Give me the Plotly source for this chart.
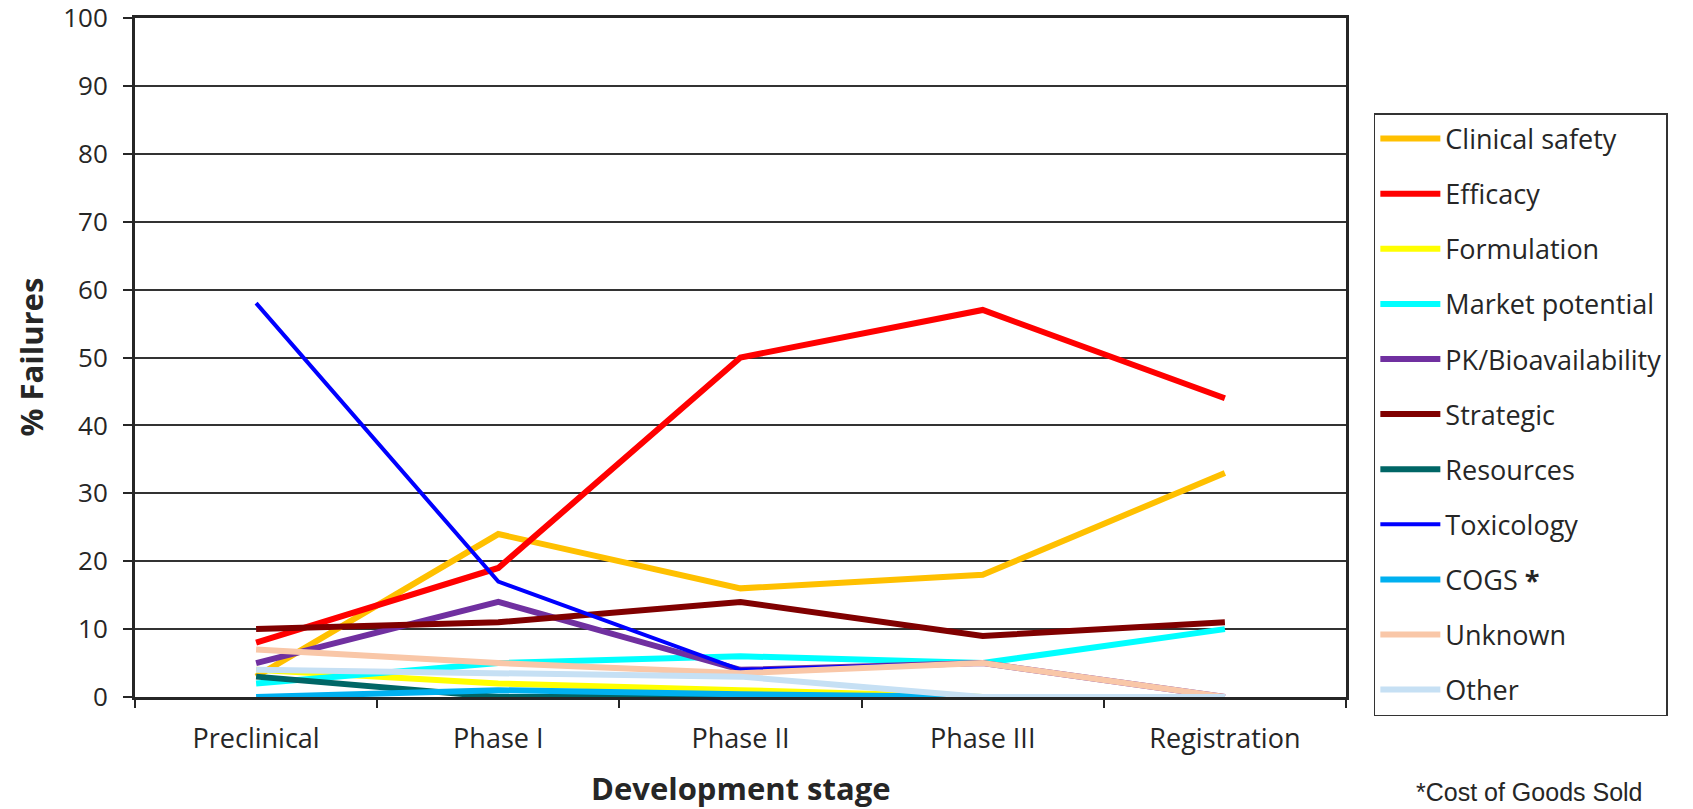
import plotly.graph_objects as go

stages = ["Preclinical", "Phase I", "Phase II", "Phase III", "Registration"]

clinical_safety = [3, 24, 16, 18, 33]
efficacy = [8, 19, 50, 57, 44]
formulation = [4, 2, 1, 0, 0]
market_potential = [2, 5, 6, 5, 10]
pk_bioavailability = [5, 14, 4, 5, 0]
strategic = [10, 11, 14, 9, 11]
resources = [3, 0, 0, 0, 0]
toxicology = [58, 17, 4, 5, 0]
cogs = [0, 1, 0.4, 0, 0]
unknown = [7, 5, 3.5, 5, 0]
other = [4, 3.4, 3, 0, 0]

series = [
    ("Clinical safety", clinical_safety, "#FFC000", 6),
    ("Efficacy", efficacy, "#FF0000", 6),
    ("Formulation", formulation, "#FFFF00", 6),
    ("Market potential", market_potential, "#00FFFF", 6),
    ("PK/Bioavailability", pk_bioavailability, "#7030A0", 6),
    ("Strategic", strategic, "#800000", 6),
    ("Resources", resources, "#006666", 6),
    ("Toxicology", toxicology, "#0000FF", 4),
    ("COGS <b>*</b>", cogs, "#00B0F0", 6),
    ("Unknown", unknown, "#F9C7A8", 6),
    ("Other", other, "#C6E0F4", 6),
]

fig = go.Figure()
for name, vals, color, width in series:
    fig.add_trace(go.Scatter(
        x=stages, y=vals, name=name, mode="lines",
        line=dict(color=color, width=width),
        legendgroup=name,
    ))

axis_color = "#262626"
text_color = "#262626"
fig.update_layout(
    width=1693, height=809,
    margin=dict(l=135, r=347, t=18, b=112, autoexpand=False),
    paper_bgcolor="white", plot_bgcolor="white",
    font=dict(family="Open Sans", color=text_color),
    showlegend=True,
    legend=dict(
        x=1.023, xanchor="left", y=0.86, yanchor="top",
        bordercolor="#333333", borderwidth=1.5,
        font=dict(family="Open Sans", size=27, color=text_color),
        tracegroupgap=17, itemwidth=60,
    ),
    xaxis=dict(
        type="category", range=[-0.5, 4.5], automargin=False,
        showline=True, linecolor=axis_color, linewidth=3, mirror=True,
        ticks="outside", tickson="boundaries", ticklen=8, tickwidth=2, tickcolor=axis_color,
        showgrid=False,
        tickfont=dict(family="Open Sans", size=27, color=text_color),
        ticklabelstandoff=16,
    ),
    yaxis=dict(
        range=[0, 100], dtick=10, automargin=False,
        showline=True, linecolor=axis_color, linewidth=3, mirror=True,
        ticks="outside", ticklen=9, tickwidth=2, tickcolor=axis_color,
        showgrid=True, gridcolor="#333333", gridwidth=1.5,
        tickfont=dict(family="Open Sans", size=26, color=text_color),
        ticklabelstandoff=10, ticklabeloverflow="allow",
        zeroline=False,
    ),
    annotations=[
        dict(text="<b>% Failures</b>", xref="paper", yref="paper",
             x=-0.0867, y=0.5, xanchor="center", yanchor="middle", textangle=-90,
             showarrow=False, font=dict(family="Open Sans", size=31, color=text_color)),
        dict(text="<b>Development stage</b>", xref="paper", yref="paper",
             x=0.5, y=-0.1347, xanchor="center", yanchor="middle",
             showarrow=False, font=dict(family="Open Sans", size=31, color=text_color)),
        dict(text="*Cost of Goods Sold", xref="paper", yref="paper",
             x=1.056, y=-0.164, xanchor="left", yanchor="bottom",
             showarrow=False, font=dict(family="Liberation Sans, Arial", size=25, color=text_color)),
    ],
)

fig.write_html("out.html")
